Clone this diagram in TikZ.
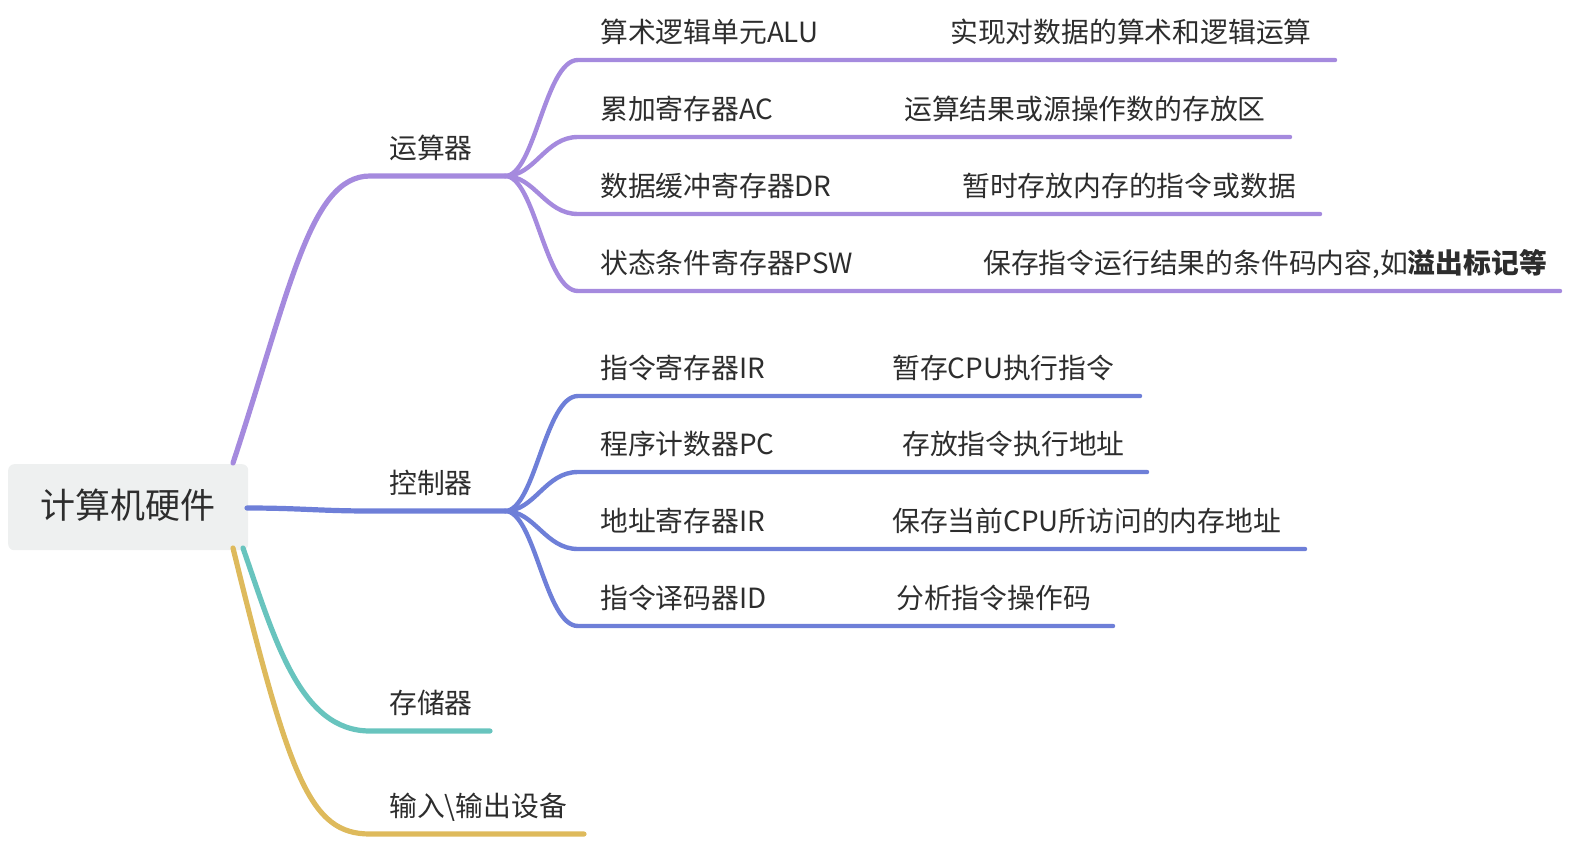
\documentclass[tikz,border=0pt]{standalone}
\usepackage{fontspec}
\setmainfont{Noto Sans CJK SC}
\definecolor{cpurple}{RGB}{165,138,222}
\definecolor{cblue}{RGB}{110,127,216}
\definecolor{cteal}{RGB}{104,196,190}
\definecolor{cgold}{RGB}{222,186,92}
\definecolor{ctext}{RGB}{45,45,45}
\definecolor{croot}{RGB}{238,240,240}
\tikzset{
  lbl/.style={anchor=base west,inner sep=0pt,text=ctext,font=\fontsize{27.8bp}{30bp}\selectfont},
  mainbr/.style={line width=5.2bp,line cap=round},
  subbr/.style={line width=4.4bp,line cap=round},
}
\begin{document}
\begin{tikzpicture}[x=1bp,y=-1bp]
\useasboundingbox (0,0) rectangle (1578,844);
% root
\node[fill=croot,rounded corners=6bp,minimum width=240bp,minimum height=86bp,inner sep=0pt,anchor=north west] (root) at (8,464) {};
\node[anchor=base,inner sep=0pt,text=ctext,font=\fontsize{35bp}{40bp}\selectfont] (roott) at (128,518) {计算机硬件};
% coordinates
\coordinate (rA) at (233,463);
\coordinate (rB) at (247,508);
\coordinate (rC) at (243,548);
\coordinate (rD) at (233,548);
\coordinate (kA) at (370,176);
\coordinate (bA) at (505,176);
\coordinate (kB) at (370,511);
\coordinate (bB) at (505,511);
\coordinate (kC) at (370,731);
\coordinate (eC) at (490,731);
\coordinate (kD) at (370,834);
\coordinate (eD) at (584,834);
% level 1 branches
\draw[mainbr,cpurple] (rA) .. controls (290,290) and (310,176) .. (kA) -- (bA);
\draw[mainbr,cblue] (rB) .. controls (300,508) and (320,511) .. (kB) -- (bB);
\draw[mainbr,cgold] (rD) .. controls (290,780) and (310,834) .. (kD) -- (eD);
\draw[mainbr,cteal] (rC) .. controls (275,640) and (300,731) .. (kC) -- (eC);
\node[lbl] (n1) at (389,158) {运算器};
\node[lbl] (n2) at (389,493) {控制器};
\node[lbl] (n3) at (389,713) {存储器};
\node[lbl] (n4) at (389,816) {输入\textbackslash 输出设备};
% purple children
\foreach \y/\e/\nm in {60/1335/pa,137/1290/pb,214/1320/pc,291/1560/pd}{
  \coordinate (\nm s) at (578,\y);
  \coordinate (\nm e) at (\e,\y);
  \draw[subbr,cpurple] (bA) .. controls (535,176) and (545,\y) .. (\nm s) -- (\nm e);
}
\foreach \y/\e/\nm in {396/1140/qa,472/1147/qb,549/1305/qc,626/1113/qd}{
  \coordinate (\nm s) at (578,\y);
  \coordinate (\nm e) at (\e,\y);
  \draw[subbr,cblue] (bB) .. controls (535,511) and (545,\y) .. (\nm s) -- (\nm e);
}
\node[lbl] (a1) at (600,42) {算术逻辑单元ALU};
\node[lbl] (a2) at (950,42) {实现对数据的算术和逻辑运算};
\node[lbl] (b1) at (600,119) {累加寄存器AC};
\node[lbl] (b2) at (904,119) {运算结果或源操作数的存放区};
\node[lbl] (c1) at (600,196) {数据缓冲寄存器DR};
\node[lbl] (c2) at (962,196) {暂时存放内存的指令或数据};
\node[lbl] (d1) at (600,273) {状态条件寄存器PSW};
\node[lbl] (d2) at (983,273) {保存指令运行结果的条件码内容,如\textbf{溢出标记等}};
\node[lbl] (e1) at (600,378) {指令寄存器IR};
\node[lbl] (e2) at (892,378) {暂存CPU执行指令};
\node[lbl] (f1) at (600,454) {程序计数器PC};
\node[lbl] (f2) at (902,454) {存放指令执行地址};
\node[lbl] (g1) at (600,531) {地址寄存器IR};
\node[lbl] (g2) at (892,531) {保存当前CPU所访问的内存地址};
\node[lbl] (h1) at (600,608) {指令译码器ID};
\node[lbl] (h2) at (896,608) {分析指令操作码};
\end{tikzpicture}
\end{document}
